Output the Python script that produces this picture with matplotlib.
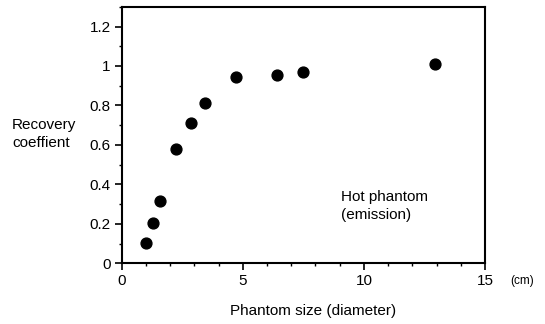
import matplotlib
matplotlib.use("Agg")
import matplotlib.pyplot as plt
from matplotlib.ticker import MultipleLocator, FuncFormatter

# Data
diameter_cm = [1.0, 1.3, 1.58, 2.26, 2.88, 3.44, 4.70, 6.40, 7.50, 12.93]
recovery = [0.105, 0.203, 0.317, 0.578, 0.713, 0.813, 0.946, 0.956, 0.969, 1.008]
x_ticks = [0, 5, 10, 15]
y_ticks = [0, 0.2, 0.4, 0.6, 0.8, 1.0, 1.2]

plt.rcParams['font.family'] = ['Liberation Sans', 'DejaVu Sans']

fig = plt.figure(figsize=(5.45, 3.24), dpi=100)
ax = fig.add_axes([0.2233, 0.1873, 0.8899 - 0.2233, 0.979 - 0.1873])

ax.plot(diameter_cm, recovery, 'o', color='black', markersize=7.8, linestyle='none', clip_on=False)

ax.set_xlim(0, 15)
ax.set_ylim(0, 1.3)
ax.set_xticks(x_ticks)
ax.set_yticks(y_ticks)
ax.xaxis.set_minor_locator(MultipleLocator(1))
ax.yaxis.set_minor_locator(MultipleLocator(0.1))

def fmt(v, pos):
    return f"{v:g}"
ax.yaxis.set_major_formatter(FuncFormatter(fmt))

ax.tick_params(which='major', direction='out', length=5, width=1.2, labelsize=11, pad=3, colors='black')
ax.tick_params(which='minor', direction='out', length=2.5, width=1.0)

for s in ax.spines.values():
    s.set_linewidth(1.5)
    s.set_color('black')

fig.text(12 / 545, 1 - 134 / 324, "Recovery\ncoeffient", ha='left', va='center', fontsize=11, linespacing=1.3)
fig.text(341 / 545, 1 - 206 / 324, "Hot phantom\n(emission)", ha='left', va='center', fontsize=11, linespacing=1.3)
fig.text(522 / 545, 1 - 281 / 324, "(cm)", ha='center', va='center', fontsize=8.5)
fig.text(313 / 545, 1 - 311 / 324, "Phantom size (diameter)", ha='center', va='center', fontsize=11)

fig.savefig("out.png", dpi=100)
